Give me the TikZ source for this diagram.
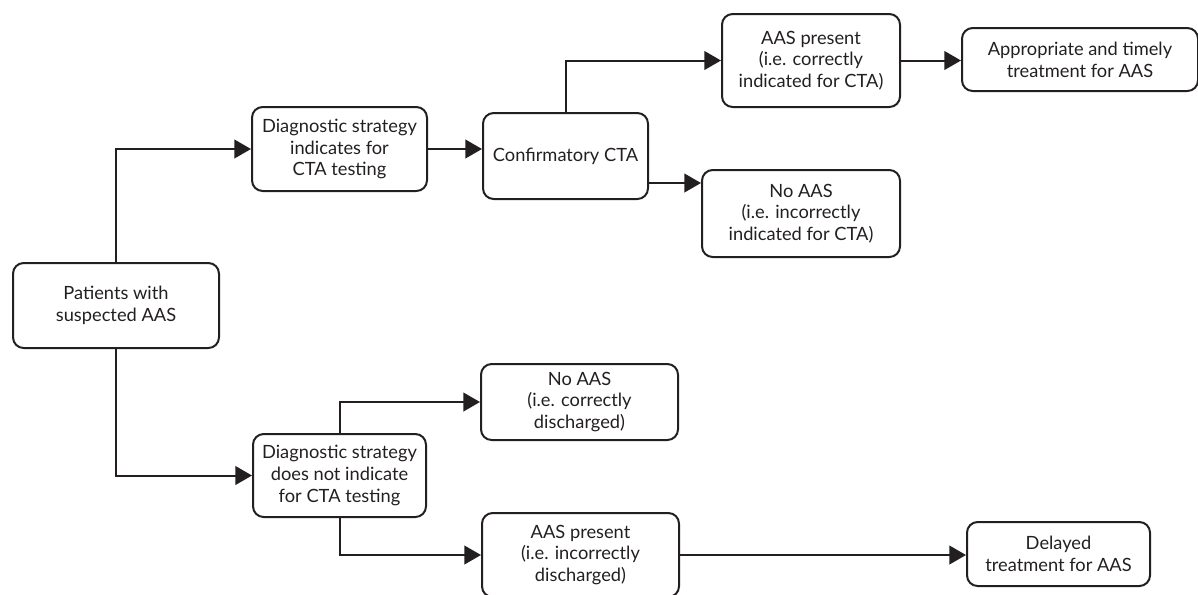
\documentclass[tikz,border=0pt]{standalone}
\usepackage{fontspec}
\setmainfont{Lato}
\usepackage{tikz}
\usetikzlibrary{calc}
\usetikzlibrary{arrows.meta}
\definecolor{FlowInk}{RGB}{35,31,32}

\begin{document}
\begin{tikzpicture}[x=0.75pt, y=-0.75pt]
       \tikzstyle{every node}=[font=\fontsize{13.7}{16.3}\selectfont, text=FlowInk]
       \tikzstyle{flowbox}=[draw=FlowInk, line width=1.5pt, rounded corners=8pt, align=center, inner sep=0pt]
       \tikzstyle{flowarrow}=[-{Triangle[length=12.5pt, width=14pt]}, draw=FlowInk, line width=1.5pt]
        \useasboundingbox (0, 0) rectangle (1198, 594);
        \node[flowbox, minimum width=154.5pt, minimum height=63.75pt] (patients) at (116, 305.5) {Patients with\\suspected AAS};
        \node[flowbox, minimum width=131.25pt, minimum height=63pt] (diagone) at (339.5, 149) {Diagnostic strategy\\indicates for\\CTA testing};
        \node[flowbox, minimum width=123.75pt, minimum height=64.5pt] (confirm) at (565.5, 156) {Confirmatory CTA};
        \node[flowbox, minimum width=133.5pt, minimum height=69.75pt] (aasone) at (811, 60.5) {AAS present\\(i.e. correctly\\indicated for CTA)};
        \node[flowbox, minimum width=177pt, minimum height=47.25pt] (timely) at (1080, 59.5) {Appropriate and timely\\treatment for AAS};
        \node[flowbox, minimum width=148.5pt, minimum height=65.25pt] (noaasone) at (801, 213.5) {No AAS\\(i.e. incorrectly\\indicated for CTA)};
        \node[flowbox, minimum width=129.75pt, minimum height=62.25pt] (diagtwo) at (339.5, 475.5) {Diagnostic strategy\\does not indicate\\for CTA testing};
        \node[flowbox, minimum width=147.75pt, minimum height=57pt] (noaastwo) at (579.5, 402) {No AAS\\(i.e. correctly\\discharged)};
        \node[flowbox, minimum width=147.75pt, minimum height=63pt] (aastwo) at (580.5, 555) {AAS present\\(i.e. incorrectly\\discharged)};
        \node[flowbox, minimum width=137.25pt, minimum height=48pt] (delayed) at (1058.5, 554) {Delayed\\treatment for AAS};
        % upper branch
        \draw[flowarrow] (patients.north) |- (diagone.west);
        \draw[flowarrow] (diagone.east) -- (diagone.east -| confirm.west);
        \draw[flowarrow] (confirm.north) |- (aasone.west);
        \draw[flowarrow] (aasone.east) -- (aasone.east -| timely.west);
        \coordinate (noaasin) at ([yshift=-10.5pt]noaasone.north west);
        \draw[flowarrow] (noaasin -| confirm.east) -- (noaasin);
        % lower branch
        \draw[flowarrow] (patients.south) |- (diagtwo.west);
        \draw[flowarrow] (diagtwo.north) |- (noaastwo.west);
        \draw[flowarrow] (diagtwo.south) |- (aastwo.west);
        \draw[flowarrow] (aastwo.east) -- (aastwo.east -| delayed.west);
      \end{tikzpicture}
\end{document}
